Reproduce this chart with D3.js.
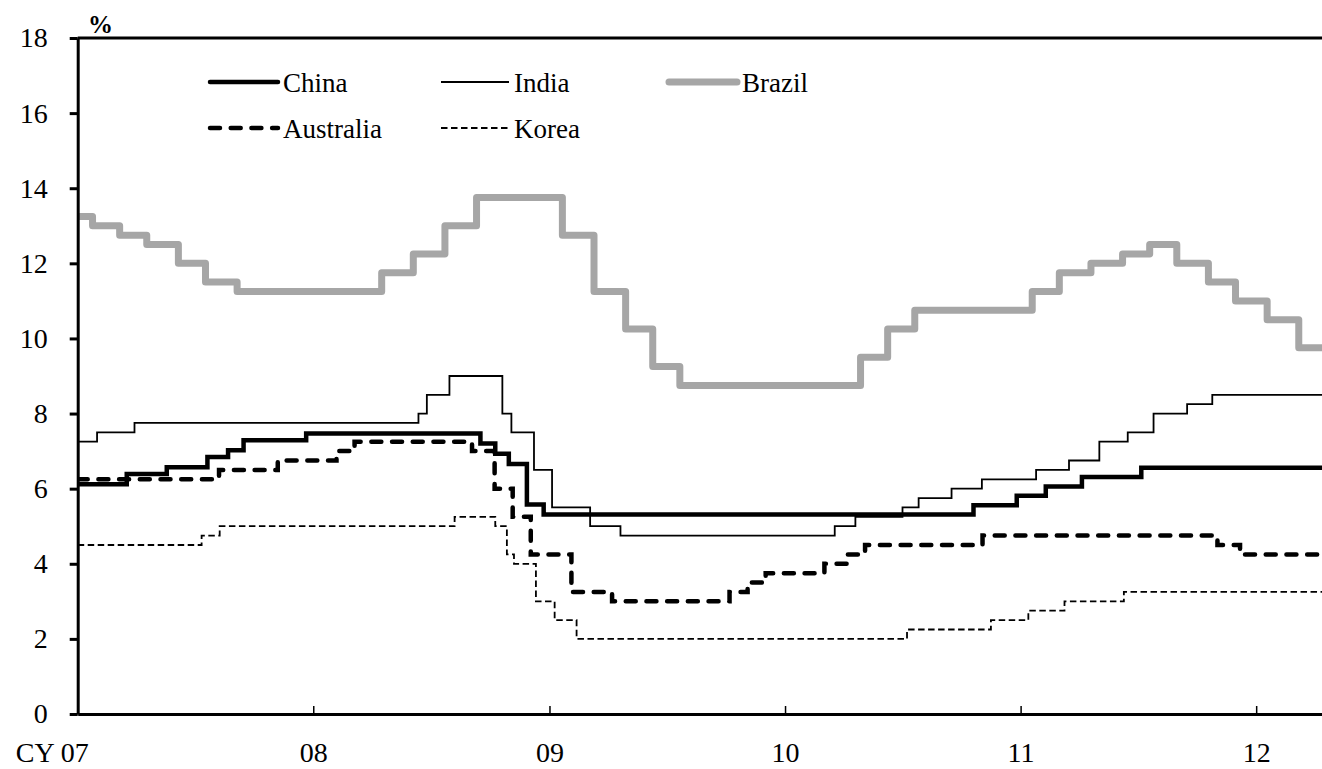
<!DOCTYPE html>
<html>
<head>
<meta charset="utf-8">
<script src="https://cdn.jsdelivr.net/npm/d3@7"></script>
<style>
  html, body { margin: 0; padding: 0; background: #fff; }
  svg { display: block; }
  svg text { font-family: "Liberation Serif", "Times New Roman", "DejaVu Serif", serif !important; }
</style>
</head>
<body>
<div id="chart"></div>
<script>
// policy rates, % (date the rate took effect, rate)
const china = [
  ["2007-01-01", 6.12], ["2007-03-18", 6.39], ["2007-05-19", 6.57], ["2007-07-21", 6.84],
  ["2007-08-22", 7.02], ["2007-09-15", 7.29], ["2007-12-21", 7.47], ["2008-09-16", 7.20],
  ["2008-10-09", 6.93], ["2008-10-30", 6.66], ["2008-11-27", 5.58], ["2008-12-23", 5.31],
  ["2010-10-20", 5.56], ["2010-12-26", 5.81], ["2011-02-09", 6.06], ["2011-04-06", 6.31],
  ["2011-07-07", 6.56]
];

const india = [
  ["2007-01-01", 7.25], ["2007-01-31", 7.50], ["2007-03-30", 7.75], ["2008-06-12", 8.00],
  ["2008-06-25", 8.50], ["2008-07-30", 9.00], ["2008-10-20", 8.00], ["2008-11-03", 7.50],
  ["2008-12-08", 6.50], ["2009-01-05", 5.50], ["2009-03-05", 5.00], ["2009-04-21", 4.75],
  ["2010-03-19", 5.00], ["2010-04-20", 5.25], ["2010-07-02", 5.50], ["2010-07-27", 5.75],
  ["2010-09-16", 6.00], ["2010-11-02", 6.25], ["2011-01-25", 6.50], ["2011-03-17", 6.75],
  ["2011-05-03", 7.25], ["2011-06-16", 7.50], ["2011-07-26", 8.00], ["2011-09-16", 8.25],
  ["2011-10-25", 8.50]
];

const brazil = [
  ["2007-01-01", 13.25], ["2007-01-24", 13.00], ["2007-03-07", 12.75], ["2007-04-18", 12.50],
  ["2007-06-06", 12.00], ["2007-07-18", 11.50], ["2007-09-05", 11.25], ["2008-04-16", 11.75],
  ["2008-06-04", 12.25], ["2008-07-23", 13.00], ["2008-09-10", 13.75], ["2009-01-21", 12.75],
  ["2009-03-11", 11.25], ["2009-04-29", 10.25], ["2009-06-10", 9.25], ["2009-07-22", 8.75],
  ["2010-04-28", 9.50], ["2010-06-09", 10.25], ["2010-07-21", 10.75], ["2011-01-19", 11.25],
  ["2011-03-02", 11.75], ["2011-04-20", 12.00], ["2011-06-08", 12.25], ["2011-07-20", 12.50],
  ["2011-08-31", 12.00], ["2011-10-19", 11.50], ["2011-11-30", 11.00], ["2012-01-18", 10.50],
  ["2012-03-07", 9.75]
];

const australia = [
  ["2007-01-01", 6.25], ["2007-08-08", 6.50], ["2007-11-07", 6.75], ["2008-02-06", 7.00],
  ["2008-03-05", 7.25], ["2008-09-03", 7.00], ["2008-10-08", 6.00], ["2008-11-05", 5.25],
  ["2008-12-03", 4.25], ["2009-02-04", 3.25], ["2009-04-08", 3.00], ["2009-10-07", 3.25],
  ["2009-11-04", 3.50], ["2009-12-02", 3.75], ["2010-03-03", 4.00], ["2010-04-07", 4.25],
  ["2010-05-05", 4.50], ["2010-11-03", 4.75], ["2011-11-02", 4.50], ["2011-12-07", 4.25]
];

const korea = [
  ["2007-01-01", 4.50], ["2007-07-12", 4.75], ["2007-08-09", 5.00], ["2008-08-07", 5.25],
  ["2008-10-09", 5.00], ["2008-10-27", 4.25], ["2008-11-07", 4.00], ["2008-12-11", 3.00],
  ["2009-01-09", 2.50], ["2009-02-12", 2.00], ["2010-07-09", 2.25], ["2010-11-16", 2.50],
  ["2011-01-13", 2.75], ["2011-03-10", 3.00], ["2011-06-10", 3.25]
];

const seriesNames = ["China", "India", "Brazil", "Australia", "Korea"];
const xTickDates = ["2007-01-01", "2008-01-01", "2009-01-01", "2010-01-01", "2011-01-01", "2012-01-01"];
const xTickLabels = ["CY 07", "08", "09", "10", "11", "12"];
const yTicks = [0, 2, 4, 6, 8, 10, 12, 14, 16, 18];
const yUnit = "%";
const dateStart = "2007-01-01";
const dateEnd = "2012-04-12";

const seriesData = { China: china, India: india, Brazil: brazil, Australia: australia, Korea: korea };

// line looks
const styles = {
  China:     { color: "#000000", width: 4.5, dash: null,       cap: "round" },
  India:     { color: "#000000", width: 1.8, dash: null,       cap: "butt" },
  Brazil:    { color: "#a6a6a6", width: 7,   dash: null,       cap: "round" },
  Australia: { color: "#000000", width: 4.5, dash: "10,10.7",  cap: "round" },
  Korea:     { color: "#000000", width: 1.8, dash: "6.5,3.5",  cap: "butt" }
};

const width = 1322, height = 769;
const margin = { top: 38, right: 0, bottom: 55, left: 77.7 };
const parseDate = d3.timeParse("%Y-%m-%d");

const svg = d3.select("#chart").append("svg")
  .attr("width", width)
  .attr("height", height);

const x = d3.scaleTime()
  .domain([parseDate(dateStart), parseDate(dateEnd)])
  .range([margin.left, width - margin.right]);

const y = d3.scaleLinear()
  .domain([0, 18])
  .range([height - margin.bottom, margin.top]);

svg.append("clipPath").attr("id", "plot-clip")
  .append("rect")
  .attr("x", margin.left)
  .attr("y", 0)
  .attr("width", width - margin.left)
  .attr("height", height);

const line = d3.line()
  .x(d => x(d.date))
  .y(d => y(d.value))
  .curve(d3.curveStepAfter);

const plot = svg.append("g").attr("clip-path", "url(#plot-clip)");

seriesNames.forEach(name => {
  const pts = seriesData[name].map(([d, v]) => ({ date: parseDate(d), value: v }));
  // hold the last rate to the end of the axis
  pts.push({ date: parseDate(dateEnd), value: pts[pts.length - 1].value });
  const s = styles[name];
  plot.append("path")
    .datum(pts)
    .attr("fill", "none")
    .attr("stroke", s.color)
    .attr("stroke-width", s.width)
    .attr("stroke-dasharray", s.dash)
    .attr("stroke-linecap", s.cap)
    .attr("stroke-linejoin", name === "Brazil" ? "round" : "miter")
    .attr("d", line);
});

// y axis
svg.append("g")
  .attr("transform", `translate(${margin.left},0)`)
  .call(d3.axisLeft(y).tickValues(yTicks).tickSize(8).tickSizeOuter(0).tickPadding(22))
  .call(g => g.select(".domain").attr("stroke-width", 3))
  .call(g => g.selectAll(".tick line").attr("stroke-width", 3))
  .call(g => g.selectAll("text")
    .attr("font-size", 28)
    .attr("fill", "#000"));

// top frame line
svg.append("line")
  .attr("x1", margin.left)
  .attr("x2", width)
  .attr("y1", y(18))
  .attr("y2", y(18))
  .attr("stroke", "#000")
  .attr("stroke-width", 3);

// x axis
svg.append("g")
  .attr("transform", `translate(0,${y(0)})`)
  .call(d3.axisBottom(x)
    .tickValues(xTickDates.map(parseDate))
    .tickFormat((d, i) => xTickLabels[i])
    .tickSizeInner(-8)
    .tickSizeOuter(0)
    .tickPadding(28))
  .call(g => g.select(".domain").attr("stroke-width", 3))
  .call(g => g.selectAll(".tick line").attr("stroke-width", 1.5))
  .call(g => g.selectAll("text")
    .attr("font-size", 28)
    .attr("fill", "#000"))
  .call(g => g.select(".tick text").attr("dx", -26));

// unit label
svg.append("text")
  .attr("x", 88)
  .attr("y", 33)
  .attr("font-size", 25)
  .attr("font-weight", "bold")
  .attr("fill", "#000")
  .text(yUnit);

// legend
const legendCols = [210, 441, 669];
const legendRows = [82, 128];
const legend = svg.append("g");
seriesNames.forEach((name, i) => {
  const col = i < 3 ? i : i - 3;
  const row = i < 3 ? 0 : 1;
  const lx = legendCols[col];
  const ly = legendRows[row];
  const s = styles[name];
  legend.append("line")
    .attr("x1", lx)
    .attr("x2", lx + 68)
    .attr("y1", ly)
    .attr("y2", ly)
    .attr("stroke", s.color)
    .attr("stroke-width", s.width)
    .attr("stroke-dasharray", s.dash)
    .attr("stroke-linecap", s.cap);
  legend.append("text")
    .attr("x", lx + 73)
    .attr("y", ly + 10)
    .attr("font-size", 27)
    .attr("fill", "#000")
    .text(name);
});
</script>
</body>
</html>
